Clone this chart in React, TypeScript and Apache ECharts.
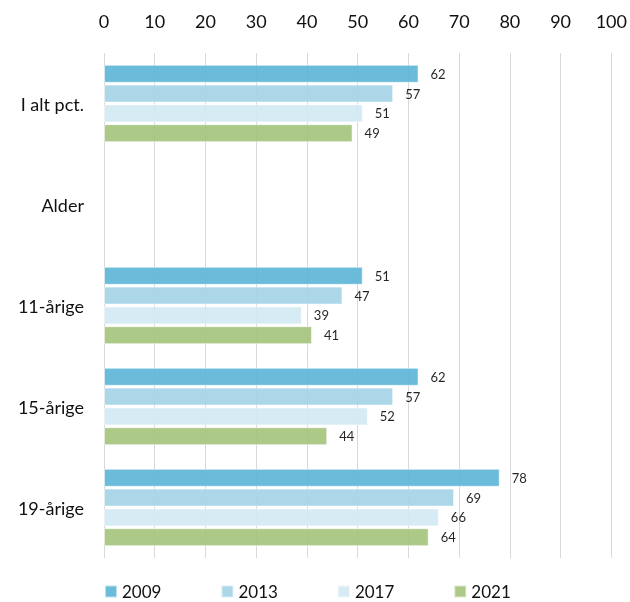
import React, { useEffect, useRef } from "react";
import * as echarts from "echarts";

const categories = ["I alt pct.", "Alder", "11-årige", "15-årige", "19-årige"];
const seriesNames = ["2009", "2013", "2017", "2021"];
const values2009 = [62, null, 51, 62, 78];
const values2013 = [57, null, 47, 57, 69];
const values2017 = [51, null, 39, 52, 66];
const values2021 = [49, null, 41, 44, 64];
const xTicks = [0, 10, 20, 30, 40, 50, 60, 70, 80, 90, 100];
const colors = ["#5eb5d8", "#a5d4e7", "#d2e9f2", "#a6c47e"];

const FONT = "Lato, 'Open Sans', sans-serif";

export default function App() {
  const ref = useRef<HTMLDivElement>(null);
  useEffect(() => {
    if (!ref.current) return;
    const chart = echarts.init(ref.current, null, { renderer: "svg" });
    const allValues = [values2009, values2013, values2017, values2021];
    chart.setOption({
      animation: false,
      textStyle: { fontFamily: FONT },
      grid: { left: 104, right: 18, top: 53, bottom: 44, containLabel: false },
      legend: {
        top: 583,
        left: 104,
        padding: 0,
        itemWidth: 12,
        itemHeight: 12,
        itemGap: 59,
        icon: "rect",
        textStyle: { fontSize: 17, lineHeight: 14, color: "#111", fontFamily: FONT },
        data: seriesNames,
      },
      xAxis: {
        type: "value",
        position: "top",
        min: xTicks[0],
        max: xTicks[xTicks.length - 1],
        interval: 10,
        axisLine: { show: false },
        axisTick: { show: false },
        axisLabel: { fontSize: 18, color: "#111", margin: 23, fontFamily: FONT },
        splitLine: { show: true, lineStyle: { color: "#d9d9d9", width: 1 } },
      },
      yAxis: {
        type: "category",
        data: categories,
        inverse: true,
        axisLine: { show: false },
        axisTick: { show: false },
        axisLabel: { fontSize: 18, color: "#111", margin: 20, fontFamily: FONT },
      },
      series: seriesNames.map((name, i) => ({
        name,
        type: "bar",
        data: allValues[i],
        barWidth: 18,
        barGap: "10%",
        itemStyle: {
          color: colors[i],
          opacity: 0.92,
          borderColor: "rgba(255,255,255,0.6)",
          borderWidth: 1,
        },
        label: {
          show: true,
          position: "right",
          distance: 12,
          fontSize: 13,
          color: "#111",
          fontFamily: FONT,
        },
      })),
    });
    return () => chart.dispose();
  }, []);
  return (
    <div
      ref={ref}
      style={{ position: "fixed", left: 0, top: 0, width: 630, height: 602 }}
    />
  );
}
